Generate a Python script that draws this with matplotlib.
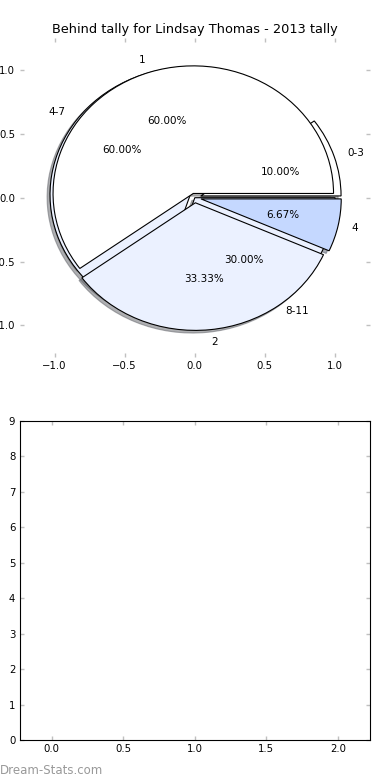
import matplotlib
matplotlib.use('Agg')
import matplotlib.pyplot as plt

title = 'Behind tally for Lindsay Thomas - 2013 tally'

# behind tally bands (first pie, drawn underneath)
band_labels = ['0-3', '4-7', '8-11']
band_counts = [1, 6, 3]
band_explode = [0.045, 0.04, 0.0]

# tally counts (second pie, drawn on top)
count_labels = ['1', '2', '4']
count_counts = [9, 5, 1]
count_explode = [0.035, 0.04, 0.045]

# empty bar panel underneath
bar_xticks = [0.0, 0.5, 1.0, 1.5, 2.0]
bar_yticks = [0, 1, 2, 3, 4, 5, 6, 7, 8, 9]

light = '#EBF1FF'
mid = '#C5D8FF'
tick_grey = '#c0c0c0'

fig = plt.figure(figsize=(3.9, 7.8), dpi=100)
fig.subplots_adjust(left=0.05, right=0.949, top=0.951, bottom=0.0513, hspace=0.2)
ax1 = fig.add_subplot(211)
ax2 = fig.add_subplot(212)

wp = dict(edgecolor='black', linewidth=0.8)
tp = dict(fontsize=7.5)
shad = dict(ox=-0.015, oy=-0.015, shade=0.6)

# two pies on the same axes, like the original
ax1.pie(band_counts, labels=band_labels, explode=band_explode,
        colors=['white', light, light], autopct='%.2f%%', shadow=shad,
        startangle=0, wedgeprops=wp, textprops=tp)
ax1.pie(count_counts, labels=count_labels, explode=count_explode,
        colors=['white', light, mid], autopct='%.2f%%', shadow=shad,
        startangle=0, wedgeprops=wp, textprops=tp)

# old-style pie: not forced circular, ticks still shown
ax1.set_aspect('auto')
ax1.set_xlim(-1.25, 1.25)
ax1.set_ylim(-1.25, 1.25)
ax1.set_xticks([-1.0, -0.5, 0.0, 0.5, 1.0])
ax1.set_yticks([-1.0, -0.5, 0.0, 0.5, 1.0])
ax1.set_frame_on(False)
ax1.set_title(title, fontsize=9.3, pad=3.8)

ax2.set_xlim(-0.225, 2.225)
ax2.set_ylim(0, 9)
ax2.set_xticks(bar_xticks)
ax2.set_yticks(bar_yticks)
for s in ax2.spines.values():
    s.set_linewidth(0.8)

for ax in (ax1, ax2):
    ax.tick_params(which='both', direction='in', length=3, width=1,
                   color=tick_grey, top=True, right=True, labelsize=7.3, pad=3)

fig.text(0.0, 0.0128, 'Dream-Stats.com', color='#999999', fontsize=8.5,
         ha='left', va='center')

fig.savefig('out.png', dpi=100)
